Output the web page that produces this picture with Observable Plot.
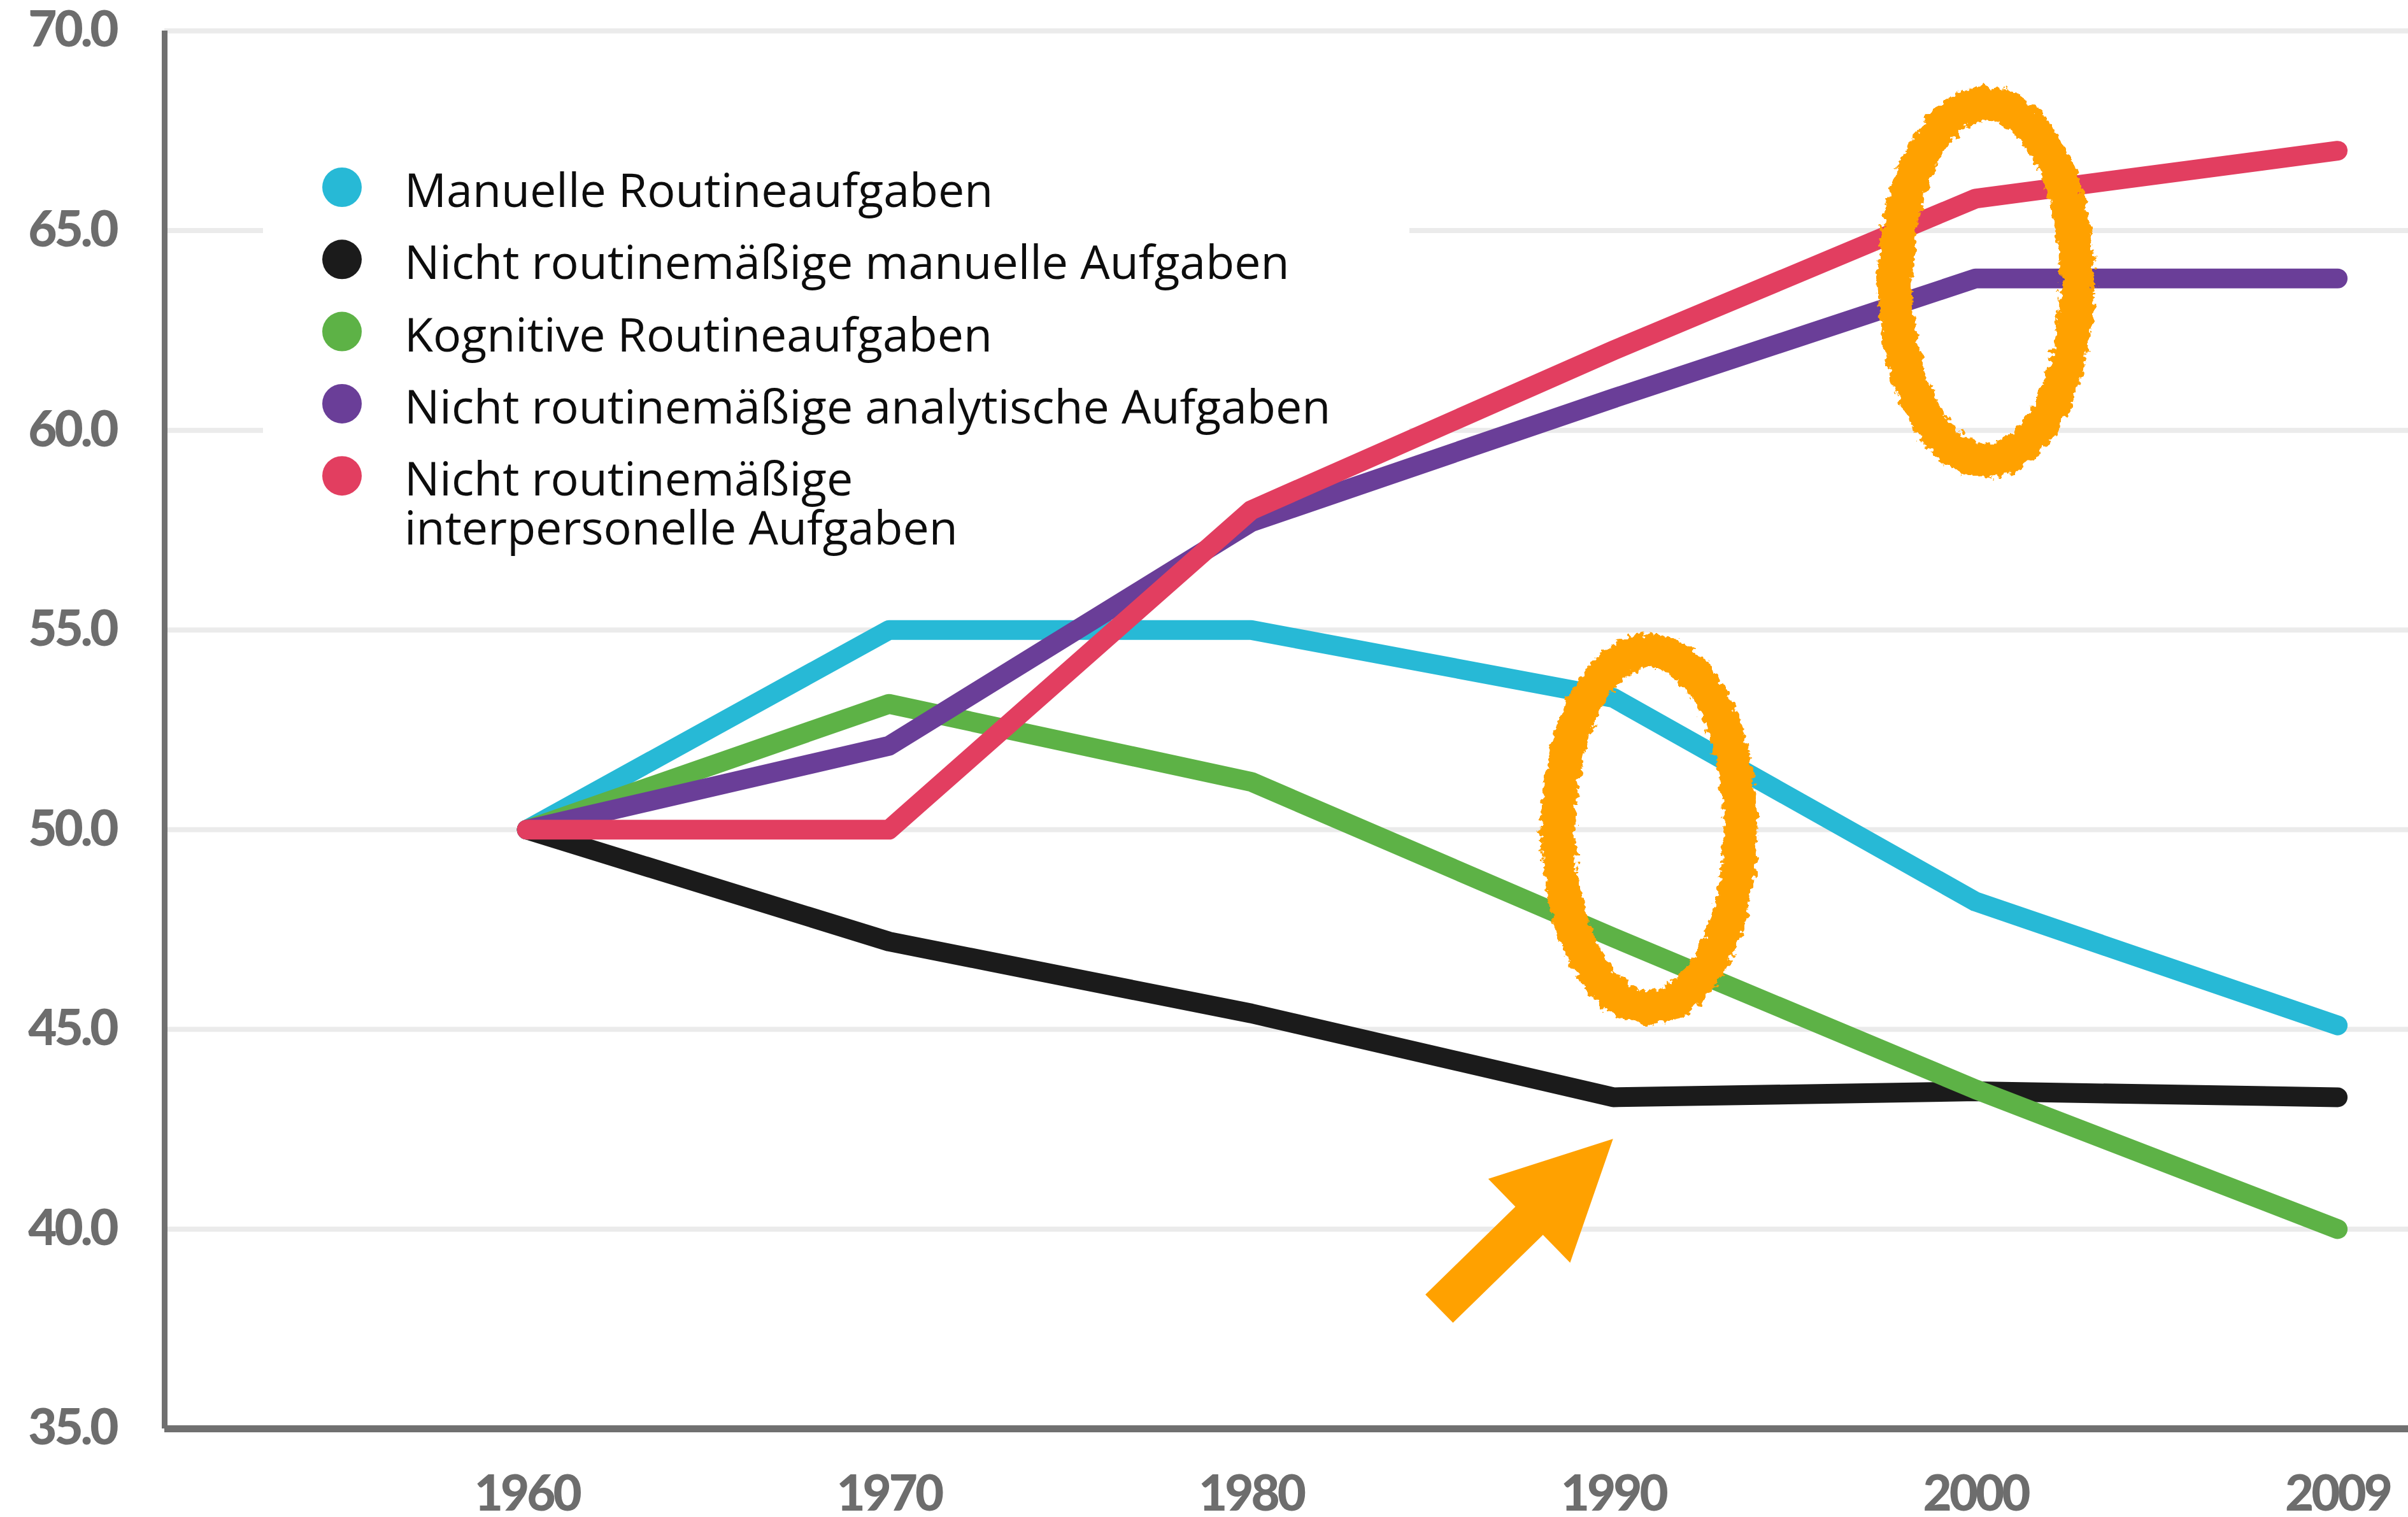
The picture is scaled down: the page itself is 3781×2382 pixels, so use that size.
<!DOCTYPE html>
<html>
<head>
<meta charset="utf-8">
<script src="https://cdn.jsdelivr.net/npm/d3@7"></script>
<script src="https://cdn.jsdelivr.net/npm/@observablehq/plot@0.6"></script>
<style>
  html, body { margin: 0; padding: 0; background: #fff; }
  #chart { width: 3781px; height: 2382px; overflow: hidden; }
  #chart svg g[aria-label="y-axis tick label"] text,
  #chart svg g[aria-label="x-axis tick label"] text { letter-spacing: -4px; }
</style>
</head>
<body>
<div id="chart"></div>
<script>
// ---- data ----
const years = ["1960", "1970", "1980", "1990", "2000", "2009"];
const seriesNames = [
  "Manuelle Routineaufgaben",
  "Nicht routinemäßige manuelle Aufgaben",
  "Kognitive Routineaufgaben",
  "Nicht routinemäßige analytische Aufgaben",
  "Nicht routinemäßige interpersonelle Aufgaben"
];
const legendLines = [
  ["Manuelle Routineaufgaben"],
  ["Nicht routinemäßige manuelle Aufgaben"],
  ["Kognitive Routineaufgaben"],
  ["Nicht routinemäßige analytische Aufgaben"],
  ["Nicht routinemäßige", "interpersonelle Aufgaben"]
];
const seriesColors = ["#27b9d6", "#1b1b1b", "#5db246", "#6a3e98", "#e23e60"];

const manuelleRoutine            = [50.0, 55.0, 55.0, 53.3, 48.2, 45.1];
const nichtRoutineManuell        = [50.0, 47.2, 45.4, 43.3, 43.45, 43.3];
const kognitiveRoutine           = [50.0, 53.15, 51.2, 47.3, 43.5, 40.0];
const nichtRoutineAnalytisch     = [50.0, 52.1, 57.7, 60.8, 63.8, 63.8];
const nichtRoutineInterpersonell = [50.0, 50.0, 58.0, 62.0, 65.8, 67.0];

const yTicks = [35, 40, 45, 50, 55, 60, 65, 70];

// annotations (in data units: category position, value)
const ellipsePos   = [4.03, 3.10];
const ellipseValue = [63.7, 50.0];
const arrowFrom = [2.52, 38.0];
const arrowTo   = [3.0, 42.25];

// ---- table built from arrays ----
const allSeries = [manuelleRoutine, nichtRoutineManuell, kognitiveRoutine, nichtRoutineAnalytisch, nichtRoutineInterpersonell];
const rows = [];
allSeries.forEach((vals, s) => vals.forEach((v, i) => rows.push({series: seriesNames[s], pos: i, year: years[i], value: v})));

const ORANGE = "#ffa100";

// legend (drawn under the data lines, above the grid)
function legendMark() {
  const g = d3.create("svg:g");
  g.append("rect").attr("x", 413).attr("y", 150).attr("width", 1800).attr("height", 760).attr("fill", "white");
  legendLines.forEach((lines, i) => {
    const cy = 294 + i * 113.3;
    g.append("circle").attr("cx", 537).attr("cy", cy).attr("r", 31).attr("fill", seriesColors[i]);
    const t = g.append("text")
      .attr("x", 635).attr("y", cy + 31)
      .attr("text-anchor", "start")
      .attr("font-family", "'Open Sans', sans-serif")
      .attr("font-size", 73.5)
      .attr("fill", "#0d0d0d");
    lines.forEach((l, j) => t.append("tspan").attr("x", 635).attr("dy", j ? 77 : 0).text(l));
  });
  return g.node();
}

// hand-drawn ellipses and arrow
function annotationMark(index, scales) {
  const g = d3.create("svg:g");
  const defs = g.append("defs");
  const f = defs.append("filter").attr("id", "rough").attr("x", "-30%").attr("y", "-30%").attr("width", "160%").attr("height", "160%");
  f.append("feTurbulence").attr("type", "fractalNoise").attr("baseFrequency", 0.09).attr("numOctaves", 3).attr("seed", 4).attr("result", "noise");
  f.append("feDisplacementMap").attr("in", "SourceGraphic").attr("in2", "noise").attr("scale", 20).attr("xChannelSelector", "R").attr("yChannelSelector", "G");
  ellipsePos.forEach((p, i) => {
    g.append("ellipse")
      .attr("cx", scales.x(p)).attr("cy", scales.y(ellipseValue[i]))
      .attr("rx", 143).attr("ry", 280)
      .attr("fill", "none").attr("stroke", ORANGE).attr("stroke-width", 54)
      .attr("filter", "url(#rough)");
  });
  const T = [scales.x(arrowFrom[0]), scales.y(arrowFrom[1])];
  const P = [scales.x(arrowTo[0]), scales.y(arrowTo[1])];
  const L = Math.hypot(P[0] - T[0], P[1] - T[1]);
  const u = [(P[0] - T[0]) / L, (P[1] - T[1]) / L];
  const n = [-u[1], u[0]];
  const hl = 184, sw = 31, hw = 92;
  const B = [P[0] - u[0] * hl, P[1] - u[1] * hl];
  const pt = (o, k) => [o[0] + n[0] * k, o[1] + n[1] * k];
  const pts = [pt(T, sw), pt(B, sw), pt(B, hw), P, pt(B, -hw), pt(B, -sw), pt(T, -sw)];
  g.append("polygon").attr("points", pts.map(d => d.join(",")).join(" ")).attr("fill", ORANGE);
  return g.node();
}

const chart = Plot.plot({
  width: 3781,
  height: 2382,
  marginLeft: 258,
  marginRight: 0,
  marginTop: 48,
  marginBottom: 139,
  style: {background: "white", fontFamily: "Lato, sans-serif", overflow: "visible"},
  x: {type: "linear", domain: [-1, 5.195]},
  y: {domain: [35, 70]},
  color: {domain: seriesNames, range: seriesColors},
  marks: [
    Plot.gridY(yTicks, {stroke: "#ebebeb", strokeOpacity: 1, strokeWidth: 8}),
    legendMark,
    Plot.ruleX([-1], {stroke: "#707070", strokeWidth: 9}),
    Plot.ruleY([35], {stroke: "#707070", strokeWidth: 11}),
    Plot.axisY(yTicks, {
      tickSize: 0, tickPadding: 76, tickFormat: d => d.toFixed(1),
      fontSize: 78, fontWeight: 900, fill: "#6d6d6d", label: null
    }),
    Plot.axisX(d3.range(years.length), {
      tickSize: 0, tickPadding: 73, tickFormat: i => years[i],
      fontSize: 78, fontWeight: 900, fill: "#6d6d6d", label: null
    }),
    Plot.line(rows, {
      x: "pos", y: "value", z: "series", stroke: "series",
      strokeWidth: 31, strokeLinecap: "round", strokeLinejoin: "round"
    }),
    annotationMark
  ]
});
document.getElementById("chart").appendChild(chart);
</script>
</body>
</html>
